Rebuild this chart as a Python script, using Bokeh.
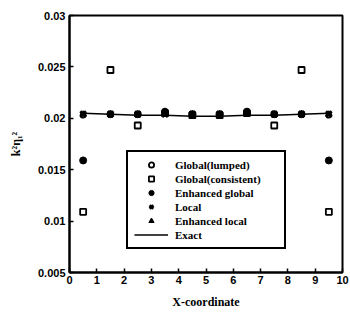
from bokeh.plotting import figure
from bokeh.embed import file_html
from bokeh.resources import INLINE
from bokeh.models import FixedTicker

x_coord = [0.5, 1.5, 2.5, 3.5, 4.5, 5.5, 6.5, 7.5, 8.5, 9.5]
global_lumped = [0.0203, 0.0204, 0.0204, 0.0207, 0.0204, 0.0204, 0.0207, 0.0204, 0.0204, 0.0203]
global_consistent = [0.0109, 0.0247, 0.0193, 0.0205, 0.0203, 0.0203, 0.0205, 0.0193, 0.0247, 0.0109]
enhanced_global = [0.0159, 0.0204, 0.0204, 0.0205, 0.0204, 0.0204, 0.0205, 0.0204, 0.0204, 0.0159]
local = [0.0204, 0.0204, 0.0204, 0.0204, 0.0204, 0.0204, 0.0205, 0.0204, 0.0204, 0.0204]
enhanced_local = [0.0204, 0.0204, 0.0203, 0.0204, 0.0204, 0.0204, 0.0204, 0.0203, 0.0204, 0.0204]
exact = [0.0205, 0.0204, 0.0203, 0.0203, 0.0202, 0.0202, 0.0203, 0.0203, 0.0204, 0.0205]

x_ticks = [0, 1, 2, 3, 4, 5, 6, 7, 8, 9, 10]
y_ticks = [0.005, 0.01, 0.015, 0.02, 0.025, 0.03]
y_tick_labels = ["0.005", "0.01", "0.015", "0.02", "0.025", "0.03"]

p = figure(width=350, height=320, output_backend="svg", toolbar_location=None,
           x_range=(0, 10), y_range=(0.005, 0.03),
           min_border_left=69, min_border_right=8, min_border_top=15, min_border_bottom=48)

p.xgrid.visible = False
p.ygrid.visible = False
p.outline_line_color = "black"
p.outline_line_width = 2
p.outline_line_alpha = 1

p.xaxis.ticker = FixedTicker(ticks=x_ticks)
p.yaxis.ticker = FixedTicker(ticks=y_ticks)
p.yaxis.major_label_overrides = {t: l for t, l in zip(y_ticks, y_tick_labels)}
for ax in (p.xaxis, p.yaxis):
    ax.axis_line_color = "black"
    ax.axis_line_width = 2
    ax.major_tick_in = 4
    ax.major_tick_out = 0
    ax.minor_tick_in = 0
    ax.minor_tick_out = 0
    ax.major_tick_line_width = 1.5
    ax.major_label_text_font = "Liberation Sans"
    ax.major_label_text_font_style = "bold"
    ax.major_label_text_font_size = "11px"
    ax.major_label_text_color = "black"
    ax.axis_label_text_font = "Liberation Serif"
    ax.axis_label_text_font_style = "bold"
    ax.axis_label_text_font_size = "12px"
    ax.axis_label_text_color = "black"
p.xaxis.major_label_standoff = 3
p.yaxis.major_label_standoff = 4
p.xaxis.axis_label = "X-coordinate"
p.xaxis.axis_label_standoff = 8
p.yaxis.axis_label = "k²η₁²"
p.yaxis.axis_label_standoff = 12

p.scatter(x_coord, global_lumped, marker="circle", size=5, fill_color="white",
          line_color="black", line_width=1.8, legend_label="Global(lumped)")
p.scatter(x_coord, global_consistent, marker="square", size=6, fill_color="white",
          line_color="black", line_width=1.8, legend_label="Global(consistent)")
p.scatter(x_coord, enhanced_global, marker="circle", size=7, fill_color="black",
          line_color="black", legend_label="Enhanced global")
p.scatter(x_coord, local, marker="x", size=8, line_color="black", line_width=2.8,
          legend_label="Local")
p.scatter(x_coord, enhanced_local, marker="triangle", size=6, fill_color="black",
          line_color="black", legend_label="Enhanced local")
p.line(x_coord, exact, line_color="black", line_width=1.5, legend_label="Exact")

lg = p.legend[0]
lg.location = (57, 23)
lg.border_line_color = "black"
lg.border_line_width = 2
lg.border_line_alpha = 1
lg.background_fill_alpha = 1
lg.label_text_font = "Liberation Serif"
lg.label_text_font_style = "bold"
lg.label_text_font_size = "11px"
lg.label_text_color = "black"
lg.label_height = 13
lg.glyph_height = 13
lg.glyph_width = 34
lg.label_width = 103
lg.spacing = 1
lg.padding = 6
lg.margin = 0
lg.label_standoff = 7

open("out.html", "w").write(file_html(p, INLINE))
